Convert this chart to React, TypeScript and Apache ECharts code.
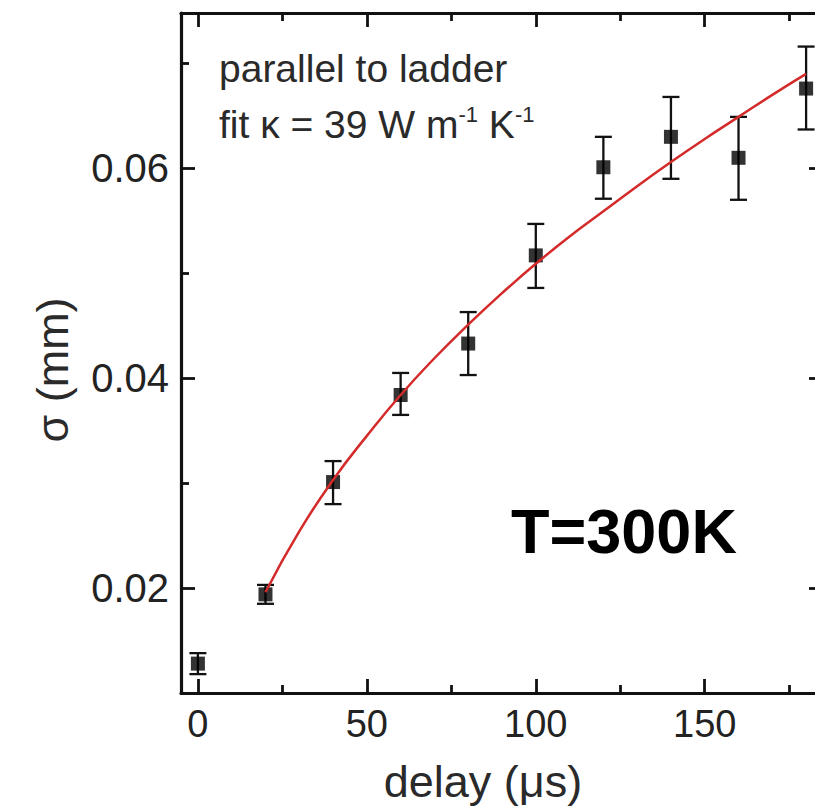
import { useEffect, useRef } from "react";
import * as echarts from "echarts";

// Measured spot width sigma versus delay, with error bars
const delays = [0, 20, 40, 60, 80, 100, 120, 140, 160, 180];
const sigma = [0.0128, 0.0194, 0.0301, 0.0384, 0.0433, 0.0517, 0.0601, 0.063, 0.061, 0.0676];
const sigmaLow = [0.0118, 0.0185, 0.028, 0.0365, 0.0403, 0.0486, 0.0571, 0.059, 0.057, 0.0637];
const sigmaHigh = [0.0138, 0.0203, 0.0321, 0.0405, 0.0463, 0.0547, 0.063, 0.0668, 0.0649, 0.0716];

// Diffusion fit curve
const fitDelays = [20, 30, 40, 50, 60, 70, 80, 90, 100, 110, 120, 130, 140, 150, 160, 170, 180];
const fitSigma = [
  0.0196, 0.0254, 0.0303, 0.0345, 0.0384, 0.0419, 0.0451, 0.0481, 0.0509, 0.0535, 0.0559,
  0.0583, 0.0606, 0.0628, 0.0649, 0.067, 0.069,
];

// Axis ranges and ticks
const xRange = [-5, 185];
const yRange = [0.01, 0.0748];
const xMajor = [0, 50, 100, 150];
const xMinor = [25, 75, 125, 175];
const yMajor = [0.02, 0.04, 0.06];
const yMinor = [0.03, 0.05, 0.07];

const FONT = '"Liberation Sans", Arial, Helvetica, sans-serif';
const INK = "#111";

function frameAxis(
  position: string,
  range: number[],
  ticks: number[],
  tickLen: number,
  withLine: boolean,
  labels: number[] | null,
  fmt?: (v: number) => string,
  labelSize = 38
) {
  return {
    type: "value",
    position,
    min: range[0],
    max: range[1],
    offset: 0,
    axisLine: { show: withLine, onZero: false, lineStyle: { color: INK, width: 3.2 } },
    axisTick: {
      show: true,
      inside: true,
      length: tickLen,
      customValues: ticks,
      lineStyle: { color: INK, width: 2.8 },
    },
    axisLabel: labels
      ? {
          show: true,
          customValues: labels,
          formatter: fmt,
          color: "#222",
          fontFamily: FONT,
          fontSize: labelSize,
          margin: 12,
        }
      : { show: false },
    splitLine: { show: false },
  };
}

export default function App() {
  const ref = useRef<HTMLDivElement>(null);

  useEffect(() => {
    if (!ref.current) return;
    const chart = echarts.init(ref.current, null, { renderer: "svg" });

    const points = delays.map((d, i) => [d, sigma[i]]);
    const bars = delays.map((d, i) => [d, sigmaLow[i], sigmaHigh[i]]);
    const fit = fitDelays.map((d, i) => [d, fitSigma[i]]);

    chart.setOption({
      animation: false,
      backgroundColor: "#fff",
      grid: { left: 181, right: -8, top: 13, bottom: 117, outerBoundsMode: "none" },
      xAxis: [
        frameAxis("bottom", xRange, xMajor, 14, true, xMajor, (v: number) => String(v), 38),
        frameAxis("bottom", xRange, xMinor, 8, false, null),
        frameAxis("top", xRange, xMajor, 14, true, null),
        frameAxis("top", xRange, xMinor, 8, false, null),
      ],
      yAxis: [
        frameAxis("left", yRange, yMajor, 14, true, yMajor, (v: number) => v.toFixed(2), 40),
        frameAxis("left", yRange, yMinor, 8, false, null),
        frameAxis("right", yRange, yMajor, 14, true, null),
        frameAxis("right", yRange, yMinor, 8, false, null),
      ],
      series: [
        {
          type: "custom",
          xAxisIndex: 0,
          yAxisIndex: 0,
          data: bars,
          renderItem: (_params: any, api: any) => {
            const x = api.value(0);
            const lo = api.coord([x, api.value(1)]);
            const hi = api.coord([x, api.value(2)]);
            const cap = 8.5;
            const style = { stroke: INK, lineWidth: 2.3 };
            return {
              type: "group",
              children: [
                { type: "line", shape: { x1: lo[0], y1: lo[1], x2: hi[0], y2: hi[1] }, style },
                { type: "line", shape: { x1: lo[0] - cap, y1: lo[1], x2: lo[0] + cap, y2: lo[1] }, style },
                { type: "line", shape: { x1: hi[0] - cap, y1: hi[1], x2: hi[0] + cap, y2: hi[1] }, style },
              ],
            };
          },
          z: 2,
        },
        {
          type: "scatter",
          xAxisIndex: 0,
          yAxisIndex: 0,
          data: points,
          symbol: "rect",
          symbolSize: 14,
          itemStyle: { color: "#000" },
          z: 3,
        },
        {
          type: "line",
          xAxisIndex: 0,
          yAxisIndex: 0,
          data: fit,
          smooth: true,
          showSymbol: false,
          symbol: "none",
          lineStyle: { color: "#d42a2a", width: 2.5 },
          z: 4,
        },
      ],
      graphic: [
        {
          type: "text",
          x: 219,
          y: 68,
          style: {
            text: "parallel to ladder",
            fontFamily: FONT,
            fontSize: 39,
            fill: "#2a2a2a",
            align: "left",
            verticalAlign: "middle",
          },
        },
        {
          type: "text",
          x: 219,
          y: 124,
          style: {
            text: "fit κ = 39 W m{s|-1} K{s|-1}",
            fontFamily: FONT,
            fontSize: 39,
            fill: "#2a2a2a",
            align: "left",
            verticalAlign: "middle",
            rich: {
              s: { fontFamily: FONT, fontSize: 22, fill: "#2a2a2a", padding: [0, 0, 20, 0] },
            },
          },
        },
        {
          type: "text",
          x: 511,
          y: 531,
          style: {
            text: "T=300K",
            fontFamily: FONT,
            fontSize: 63,
            fontWeight: "bold",
            fill: "#000",
            align: "left",
            verticalAlign: "middle",
          },
        },
        {
          type: "text",
          x: 483,
          y: 781,
          style: {
            text: "delay (μs)",
            fontFamily: FONT,
            fontSize: 45,
            fill: "#2a2a2a",
            align: "center",
            verticalAlign: "middle",
          },
        },
        {
          type: "text",
          x: 52,
          y: 370,
          rotation: Math.PI / 2,
          style: {
            text: "σ (mm)",
            fontFamily: FONT,
            fontSize: 45,
            fill: "#2a2a2a",
            align: "center",
            verticalAlign: "middle",
          },
        },
      ],
    });

    return () => chart.dispose();
  }, []);

  return (
    <div
      ref={ref}
      style={{ position: "absolute", left: 0, top: 0, width: 815, height: 810 }}
    />
  );
}
